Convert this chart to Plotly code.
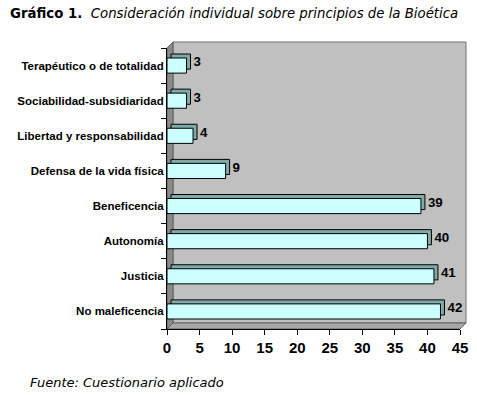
import plotly.graph_objects as go

categories = ["No maleficencia", "Justicia", "Autonomía", "Beneficencia",
              "Defensa de la vida física", "Libertad y responsabilidad",
              "Sociabilidad-subsidiaridad", "Terapéutico o de totalidad"]
values = [42, 41, 40, 39, 9, 4, 3, 3]
x_ticks = [0, 5, 10, 15, 20, 25, 30, 35, 40, 45]

W, H = 477, 395
L, R, T, B = 167, 17, 48, 66
PW, PH = W - L - R, H - T - B
XMAX = 45
depth_px = 4
wall_px = 6
sx = depth_px * XMAX / PW
sy = depth_px * len(categories) / PH
dx = wall_px / PW
dy = wall_px / PH

fig = go.Figure()
# invisible trace to anchor the main (visible) axes
fig.add_trace(go.Bar(y=categories, x=values, orientation="h", opacity=0,
                     hoverinfo="skip", showlegend=False))
# back (depth) faces of bars
fig.add_trace(go.Bar(
    y=categories, x=values, orientation="h", xaxis="x2", yaxis="y2",
    width=0.43, marker=dict(color="#7FAAAA", line=dict(color="#000000", width=1)),
    text=[str(v) for v in values], textposition="outside", cliponaxis=False,
    textfont=dict(family="Arial", size=15, color="#000000"),
    texttemplate="<b>%{text}</b>", hoverinfo="skip", showlegend=False))
# front faces
fig.add_trace(go.Bar(
    y=categories, x=values, orientation="h", xaxis="x3", yaxis="y3",
    width=0.43, marker=dict(color="#CCFFFF", line=dict(color="#000000", width=1)),
    hoverinfo="skip", showlegend=False))

def px_to_paper(px, py):
    return (px - L) / PW, (H - B - py) / PH

shapes = [
    dict(type="rect", xref="x domain", yref="y domain", x0=dx, x1=1 + dx, y0=dy, y1=1 + dy,
         fillcolor="#C0C0C0", line=dict(color="#707070", width=1), layer="below"),
    dict(type="path", xref="x domain", yref="y domain",
         path=f"M 0 0 L {dx} {dy} L {dx} {1+dy} L 0 1 Z",
         fillcolor="#8A8A8A", line=dict(color="#606060", width=1), layer="below"),
    dict(type="path", xref="x domain", yref="y domain",
         path=f"M 0 0 L 1 0 L {1+dx} {dy} L {dx} {dy} Z",
         fillcolor="#A8A8A8", line=dict(color="#606060", width=1), layer="below"),
]

tx, ty = px_to_paper(8, 13)
fx, fy = px_to_paper(28, 382)
annotations = [
    dict(text="<b>Gráfico 1.</b>  <i>Consideración individual sobre principios de la Bioética</i>",
         xref="paper", yref="paper", x=tx, y=ty, xanchor="left", yanchor="middle",
         showarrow=False, font=dict(family="DejaVu Sans", size=13.3, color="#000000")),
    dict(text="<i>Fuente: Cuestionario aplicado</i>",
         xref="paper", yref="paper", x=fx, y=fy, xanchor="left", yanchor="middle",
         showarrow=False, font=dict(family="DejaVu Sans", size=13, color="#000000")),
]

cat_axis = dict(type="category", categoryorder="array", categoryarray=categories)

fig.update_layout(
    width=W, height=H, margin=dict(l=L, r=R, t=T, b=B, autoexpand=False),
    paper_bgcolor="#FFFFFF", plot_bgcolor="rgba(0,0,0,0)",
    barmode="overlay", shapes=shapes, annotations=annotations,
    xaxis=dict(range=[0, XMAX], tickvals=x_ticks, ticktext=[f"<b>{v}</b>" for v in x_ticks],
               showgrid=False, zeroline=False, showline=True, linecolor="#000000", linewidth=1,
               ticks="outside", ticklen=5, tickcolor="#000000",
               tickfont=dict(family="Arial", size=15, color="#000000")),
    yaxis=dict(**cat_axis,
               range=[-0.5, len(categories) - 0.5], showgrid=False, showline=True,
               linecolor="#000000", linewidth=1, ticks="outside", ticklen=5,
               tickcolor="#000000", tickson="boundaries",
               tickvals=categories, ticktext=[f"<b>{c}</b>" for c in categories],
               tickfont=dict(family="Arial", size=11.5, color="#000000")),
    xaxis2=dict(overlaying="x", range=[-sx, XMAX - sx], visible=False),
    yaxis2=dict(overlaying="y", **cat_axis,
                range=[-0.5 - sy, len(categories) - 0.5 - sy], visible=False),
    xaxis3=dict(overlaying="x", range=[0, XMAX], visible=False),
    yaxis3=dict(overlaying="y", **cat_axis,
                range=[-0.5, len(categories) - 0.5], visible=False),
)

fig.write_html("out.html", config={"displayModeBar": False},
               post_script="document.body.style.margin='0px';")
